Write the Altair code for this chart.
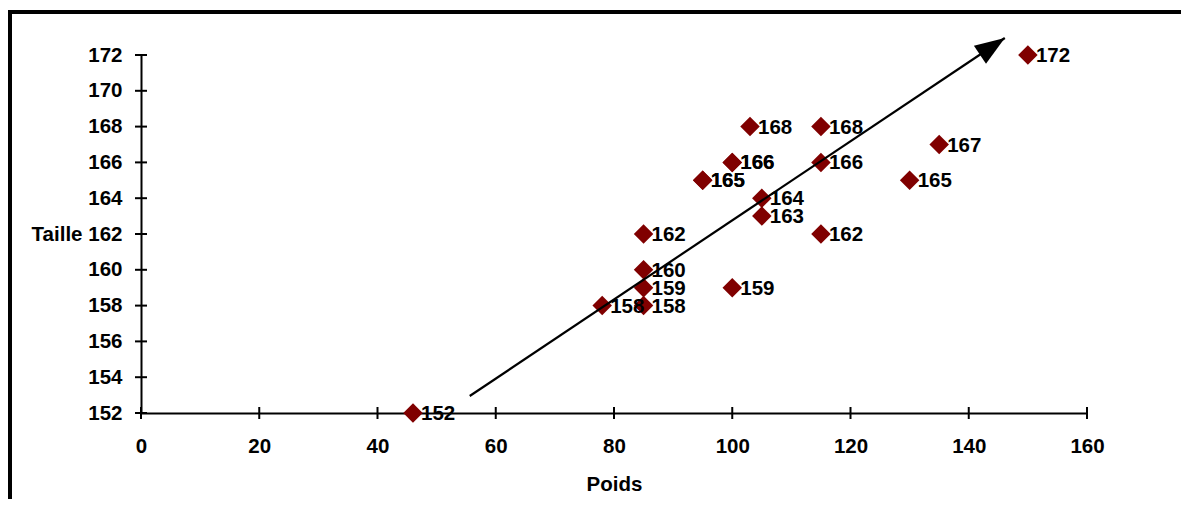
import altair as alt
import pandas as pd

# Data
poids = [46, 78, 85, 85, 85, 85, 95, 95, 100, 100, 100, 103, 105, 105, 115, 115, 115, 130, 135, 150]
taille = [152, 158, 158, 159, 160, 162, 165, 165, 166, 166, 159, 168, 164, 163, 168, 166, 162, 165, 167, 172]

x_ticks = [0, 20, 40, 60, 80, 100, 120, 140, 160]
y_ticks = [152, 154, 156, 158, 160, 162, 164, 166, 168, 170, 172]

arrow_x = [55.6, 146.1]
arrow_y = [152.95, 172.95]

W, H = 946, 358
PL, PT, PR, PB = 133, 47, 94, 86
FONT = "Liberation Sans"
FS = 20.5

df = pd.DataFrame({"Poids": poids, "Taille": taille})
df_xt = pd.DataFrame({"v": x_ticks})
df_yt = pd.DataFrame({"v": y_ticks})
df_arrow = pd.DataFrame({"Poids": arrow_x, "Taille": arrow_y, "o": [0, 1]})
df_tip = df_arrow.iloc[[1]]

xs = alt.Scale(domain=[0, 160], nice=False, zero=False)
ys = alt.Scale(domain=[152, 172], nice=False, zero=False)

x_axis = alt.Axis(values=x_ticks, title="Poids", labelPadding=23, titleY=77,
                  titleBaseline="alphabetic", titleFontSize=FS, titleFont=FONT,
                  titleFontWeight="bold", titleColor="black",
                  labelFlush=False, labelOverlap=False)
y_axis = alt.Axis(values=y_ticks, title="Taille", labelPadding=19, titleAngle=0,
                  titleAlign="right", titleBaseline="middle", titleX=-59, titleY=H / 2,
                  titleFontSize=FS, titleFont=FONT, titleFontWeight="bold", titleColor="black",
                  labelFlush=False, labelOverlap=False)

points = alt.Chart(df).mark_point(shape="diamond", filled=True, size=380,
                                   color="#800000", opacity=1).encode(
    x=alt.X("Poids:Q", scale=xs, axis=x_axis),
    y=alt.Y("Taille:Q", scale=ys, axis=y_axis),
)

labels = alt.Chart(df).mark_text(align="left", baseline="middle", dx=8, dy=1,
                                  font=FONT, fontSize=FS, fontWeight="bold",
                                  color="black").encode(
    x=alt.X("Poids:Q", scale=xs, axis=x_axis),
    y=alt.Y("Taille:Q", scale=ys, axis=y_axis),
    text=alt.Text("Taille:Q", format="d"),
)

xtick = alt.Chart(df_xt).mark_rule(color="black", strokeWidth=2).encode(
    x=alt.X("v:Q", scale=xs, axis=x_axis),
    y=alt.value(H - 6), y2=alt.value(H + 6),
)
ytick = alt.Chart(df_yt).mark_rule(color="black", strokeWidth=2).encode(
    y=alt.Y("v:Q", scale=ys, axis=y_axis),
    x=alt.value(-6), x2=alt.value(6),
)

arrow_line = alt.Chart(df_arrow).mark_line(color="black", strokeWidth=2.2).encode(
    x=alt.X("Poids:Q", scale=xs, axis=x_axis),
    y=alt.Y("Taille:Q", scale=ys, axis=y_axis),
    order="o:Q",
)
arrow_head = alt.Chart(df_tip).mark_point(
    shape="M0,0L-0.72,2L0.72,2Z", filled=True, size=900, angle=56,
    color="black", opacity=1).encode(
    x=alt.X("Poids:Q", scale=xs, axis=x_axis),
    y=alt.Y("Taille:Q", scale=ys, axis=y_axis),
)

one = alt.Data(values=[{"a": 1}])
frame_top = alt.Chart(one).mark_rule(color="black", strokeWidth=4).encode(
    x=alt.value(-PL), x2=alt.value(W + PR), y=alt.value(-43))
frame_left = alt.Chart(one).mark_rule(color="black", strokeWidth=4).encode(
    x=alt.value(-131), y=alt.value(-45), y2=alt.value(H + PB))

chart = alt.layer(
    frame_top, frame_left, xtick, ytick, points, labels, arrow_line, arrow_head
).properties(
    width=W, height=H,
    padding={"left": PL, "top": PT, "right": PR, "bottom": PB},
    autosize=alt.AutoSizeParams(type="none"),
    background="white",
).configure_view(stroke=None).configure_axis(
    grid=False, ticks=False, domainColor="black", domainWidth=2,
    labelFont=FONT, labelFontSize=FS, labelFontWeight="bold", labelColor="black",
    labelOverlap=False, labelFlush=False,
)

chart.save("out.html", embed_options={"renderer": "svg", "actions": False})
